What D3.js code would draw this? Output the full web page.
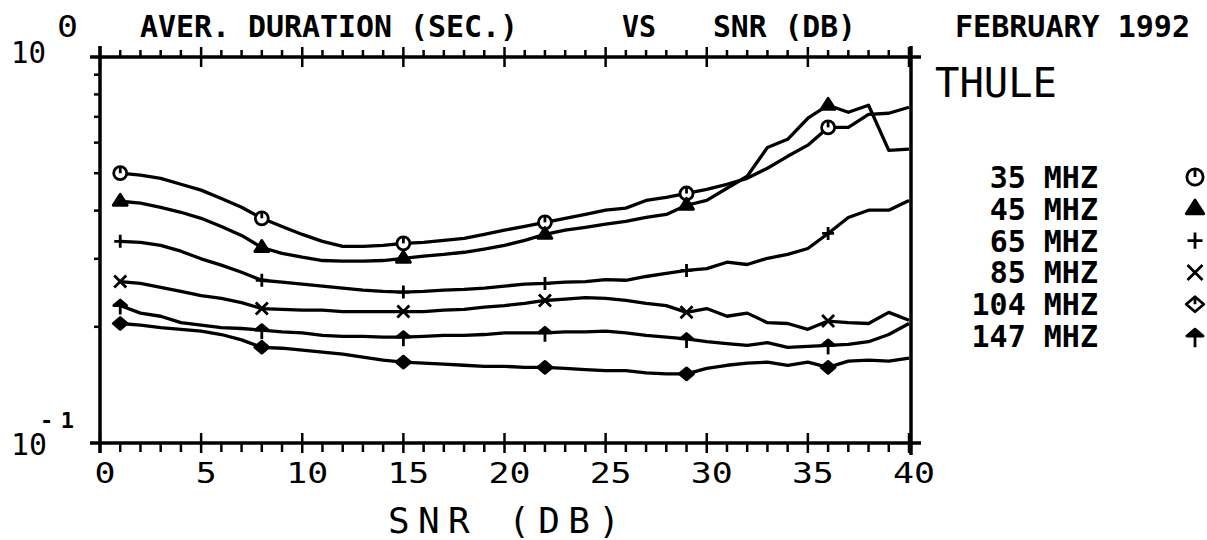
<!DOCTYPE html>
<html>
<head>
<meta charset="utf-8">
<script src="https://cdn.jsdelivr.net/npm/d3@7/dist/d3.min.js"></script>
<style>
    body { margin: 0; background: #fff; }
    svg text { font-family: "DejaVu Sans Mono", monospace; fill: #000; }
</style>
</head>
<body>
<div id="chart"></div>
<script>
// SNR (dB) at which the average durations were computed
const snr = [1, 2, 3, 4, 5, 6, 7, 8, 9, 10, 11, 12, 13, 14, 15, 16, 17, 18, 19, 20,
             21, 22, 23, 24, 25, 26, 27, 28, 29, 30, 31, 32, 33, 34, 35, 36, 37, 38, 39, 40];
// points that carry a symbol
const markerSnr = [1, 8, 15, 22, 29, 36];

const freqLabels = ["35 MHZ", "45 MHZ", "65 MHZ", "85 MHZ", "104 MHZ", "147 MHZ"];
const symbolKinds = ["circle", "triangle", "plus", "cross", "diamond", "umbrella"];

// average duration (sec.)
const dur35 = [0.500, 0.494, 0.485, 0.468, 0.452, 0.430, 0.408, 0.382, 0.364, 0.347,
               0.333, 0.323, 0.323, 0.325, 0.329, 0.331, 0.335, 0.339, 0.347, 0.356,
               0.364, 0.373, 0.382, 0.391, 0.401, 0.406, 0.425, 0.433, 0.443, 0.454,
               0.468, 0.485, 0.515, 0.553, 0.591, 0.657, 0.657, 0.710, 0.715, 0.741];
const dur45 = [0.423, 0.418, 0.408, 0.396, 0.382, 0.364, 0.345, 0.321, 0.310, 0.303,
               0.297, 0.296, 0.296, 0.297, 0.301, 0.305, 0.308, 0.312, 0.318, 0.325,
               0.335, 0.347, 0.356, 0.362, 0.369, 0.375, 0.384, 0.391, 0.413, 0.425,
               0.457, 0.491, 0.583, 0.612, 0.694, 0.750, 0.719, 0.750, 0.573, 0.577];
const dur65 = [0.333, 0.331, 0.325, 0.314, 0.300, 0.289, 0.277, 0.264, 0.261, 0.258,
               0.255, 0.252, 0.249, 0.247, 0.246, 0.247, 0.249, 0.250, 0.252, 0.255,
               0.258, 0.259, 0.261, 0.262, 0.265, 0.264, 0.270, 0.275, 0.280, 0.283,
               0.294, 0.290, 0.301, 0.308, 0.319, 0.349, 0.384, 0.401, 0.401, 0.425];
const dur85 = [0.262, 0.259, 0.253, 0.247, 0.241, 0.237, 0.231, 0.223, 0.222, 0.221,
               0.221, 0.219, 0.219, 0.219, 0.219, 0.219, 0.221, 0.222, 0.225, 0.227,
               0.230, 0.234, 0.236, 0.238, 0.237, 0.234, 0.230, 0.227, 0.218, 0.223,
               0.213, 0.217, 0.205, 0.204, 0.197, 0.207, 0.205, 0.204, 0.218, 0.208];
const dur104 = [0.204, 0.202, 0.199, 0.197, 0.195, 0.191, 0.185, 0.177, 0.176, 0.174,
                0.172, 0.170, 0.167, 0.164, 0.162, 0.161, 0.160, 0.159, 0.158, 0.158,
                0.157, 0.157, 0.156, 0.155, 0.154, 0.154, 0.152, 0.151, 0.151, 0.156,
                0.159, 0.161, 0.162, 0.159, 0.162, 0.157, 0.163, 0.164, 0.163, 0.166];
const dur147 = [0.227, 0.217, 0.213, 0.205, 0.202, 0.199, 0.198, 0.196, 0.194, 0.193,
                0.190, 0.189, 0.189, 0.188, 0.188, 0.189, 0.190, 0.190, 0.191, 0.193,
                0.193, 0.193, 0.194, 0.194, 0.195, 0.193, 0.190, 0.188, 0.186, 0.183,
                0.181, 0.179, 0.182, 0.177, 0.178, 0.179, 0.180, 0.183, 0.191, 0.204];

const series = [dur35, dur45, dur65, dur85, dur104, dur147];

const xMajorTicks = [0, 5, 10, 15, 20, 25, 30, 35, 40];
const xMinorTicks = [1, 2, 3, 4, 6, 7, 8, 9, 11, 12, 13, 14, 16, 17, 18, 19,
                     21, 22, 23, 24, 26, 27, 28, 29, 31, 32, 33, 34, 36, 37, 38, 39];
const yMinorTicks = [0.2, 0.3, 0.4, 0.5, 0.6, 0.7, 0.8, 0.9];

const renderChart = function (id) {

    var width = 1207, height = 540;
    var plotLeft = 100, plotRight = 909, plotTop = 57, plotBottom = 443;

    var svg = d3.select('#' + id)
        .append('svg')
        .attr('width', width)
        .attr('height', height);

    var x = d3.scaleLinear().domain([0, 40]).range([plotLeft, plotRight]);
    var y = d3.scaleLog().domain([0.1, 1]).range([plotBottom, plotTop]);

    // frame, corners cross like the plotter drew them
    var frame = svg.append('g')
        .attr('stroke', '#000')
        .attr('stroke-width', 3.5);
    frame.append('line').attr('x1', plotLeft - 10).attr('x2', plotRight + 12).attr('y1', plotTop).attr('y2', plotTop);
    frame.append('line').attr('x1', plotLeft - 10).attr('x2', plotRight + 12).attr('y1', plotBottom).attr('y2', plotBottom);
    frame.append('line').attr('x1', plotLeft).attr('x2', plotLeft).attr('y1', plotTop - 11).attr('y2', plotBottom + 10);
    frame.append('line').attr('x1', plotRight + 2).attr('x2', plotRight + 2).attr('y1', plotTop - 11).attr('y2', plotBottom + 12);

    // ticks
    var ticks = svg.append('g')
        .attr('stroke', '#000')
        .attr('stroke-width', 2.5);
    ticks.selectAll('.tmaj')
        .data(xMajorTicks)
        .enter()
        .append('line')
        .attr('x1', d => x(d)).attr('x2', d => x(d))
        .attr('y1', plotTop - 10).attr('y2', plotTop + 10);
    ticks.selectAll('.tmin')
        .data(xMinorTicks)
        .enter()
        .append('line')
        .attr('x1', d => x(d)).attr('x2', d => x(d))
        .attr('y1', plotTop - 7).attr('y2', plotTop);
    ticks.selectAll('.bmaj')
        .data(xMajorTicks)
        .enter()
        .append('line')
        .attr('x1', d => x(d)).attr('x2', d => x(d))
        .attr('y1', plotBottom - 10).attr('y2', plotBottom + 10);
    ticks.selectAll('.bmin')
        .data(xMinorTicks)
        .enter()
        .append('line')
        .attr('x1', d => x(d)).attr('x2', d => x(d))
        .attr('y1', plotBottom).attr('y2', plotBottom + 9);
    ticks.selectAll('.lmin')
        .data(yMinorTicks)
        .enter()
        .append('line')
        .attr('x1', plotLeft - 6).attr('x2', plotLeft)
        .attr('y1', d => y(d)).attr('y2', d => y(d));

    // x tick labels
    svg.selectAll('.xlab')
        .data(xMajorTicks)
        .enter()
        .append('text')
        .attr('x', d => x(d) + 5)
        .attr('y', 483)
        .attr('text-anchor', 'middle')
        .attr('font-size', 28)
        .attr('textLength', d => String(d).length * 21)
        .attr('lengthAdjust', 'spacingAndGlyphs')
        .text(d => d);

    // y decade labels
    svg.append('text').attr('x', 11).attr('y', 63).attr('font-size', 30)
        .attr('textLength', 35).attr('lengthAdjust', 'spacingAndGlyphs').text('10');
    svg.append('text').attr('x', 57).attr('y', 37).attr('font-size', 30)
        .attr('textLength', 21).attr('lengthAdjust', 'spacingAndGlyphs').text('0');
    svg.append('text').attr('x', 11).attr('y', 455).attr('font-size', 30)
        .attr('textLength', 36).attr('lengthAdjust', 'spacingAndGlyphs').text('10');
    svg.append('text').attr('x', 40).attr('y', 428).attr('font-size', 22)
        .attr('font-weight', 'bold')
        .attr('textLength', 34).attr('lengthAdjust', 'spacing').text('-1');

    // axis title
    svg.append('text')
        .attr('x', 388).attr('y', 533)
        .attr('font-size', 36)
        .attr('textLength', 232).attr('lengthAdjust', 'spacing')
        .text('SNR (DB)');

    // header line
    var header = [
        {t: 'AVER. DURATION (SEC.)', x0: 140, w: 378},
        {t: 'VS', x0: 622, w: 34},
        {t: 'SNR (DB)', x0: 713, w: 143},
        {t: 'FEBRUARY 1992', x0: 955, w: 235}
    ];
    svg.selectAll('.head')
        .data(header)
        .enter()
        .append('text')
        .attr('x', d => d.x0)
        .attr('y', 37)
        .attr('font-size', 31)
        .attr('font-weight', 'bold')
        .attr('textLength', d => d.w)
        .attr('lengthAdjust', 'spacingAndGlyphs')
        .text(d => d.t);

    svg.append('text')
        .attr('x', 935).attr('y', 97)
        .attr('font-size', 41)
        .attr('textLength', 122).attr('lengthAdjust', 'spacingAndGlyphs')
        .text('THULE');

    // symbols
    function drawSymbol(g, kind, s, legend) {
        g.attr('stroke', '#000').attr('stroke-width', 2.8).attr('fill', 'none');
        if (kind === 'circle') {
            g.append('circle').attr('r', 6.5 * s).attr('fill', '#fff');
            g.append('line').attr('x1', 0).attr('y1', -6.5 * s).attr('x2', 0).attr('y2', 0);
        } else if (kind === 'triangle') {
            g.append('path')
                .attr('d', 'M' + (-7 * s) + ',' + (4 * s) + 'L0,' + (-7 * s) + 'L' + (7 * s) + ',' + (4 * s) + 'Z')
                .attr('fill', '#000').attr('stroke-linejoin', 'round');
        } else if (kind === 'plus') {
            g.append('path')
                .attr('d', 'M' + (-6 * s) + ',0H' + (6 * s) + 'M0,' + (-6.5 * s) + 'V' + (6.5 * s));
        } else if (kind === 'cross') {
            g.append('path')
                .attr('d', 'M' + (-6 * s) + ',' + (-6 * s) + 'L' + (6 * s) + ',' + (6 * s) +
                           'M' + (6 * s) + ',' + (-6 * s) + 'L' + (-6 * s) + ',' + (6 * s));
        } else if (kind === 'diamond') {
            g.append('path')
                .attr('d', 'M0,' + (-6 * s) + 'L' + (7 * s) + ',0L0,' + (6 * s) + 'L' + (-7 * s) + ',0Z')
                .attr('fill', legend ? '#fff' : '#000').attr('stroke-linejoin', 'round');
            if (legend) {
                g.append('line').attr('x1', 0).attr('y1', -6 * s).attr('x2', 0).attr('y2', 0);
            }
        } else if (kind === 'umbrella') {
            g.append('path')
                .attr('d', 'M' + (-6.5 * s) + ',0L0,' + (-5.5 * s) + 'L' + (6.5 * s) + ',0Z')
                .attr('fill', '#000').attr('stroke-linejoin', 'round');
            g.append('line').attr('x1', 0).attr('y1', -5.5 * s).attr('x2', 0).attr('y2', 9 * s);
        }
    }

    // curves
    var line = d3.line()
        .x((d, i) => x(snr[i]))
        .y(d => y(d));

    svg.append('g')
        .selectAll('path')
        .data(series)
        .enter()
        .append('path')
        .attr('d', d => line(d))
        .attr('fill', 'none')
        .attr('stroke', '#000')
        .attr('stroke-width', 3.3)
        .attr('stroke-linejoin', 'round');

    series.forEach(function (vals, k) {
        markerSnr.forEach(function (m) {
            var idx = snr.indexOf(m);
            var g = svg.append('g')
                .attr('transform', 'translate(' + x(m) + ',' + y(vals[idx]) + ')');
            drawSymbol(g, symbolKinds[k], 1, false);
        });
    });

    // legend
    var legend = svg.append('g');
    freqLabels.forEach(function (lab, i) {
        var by = 188 + i * 31.8;
        legend.append('text')
            .attr('x', 1098).attr('y', by)
            .attr('text-anchor', 'end')
            .attr('font-size', 30)
            .attr('font-weight', 'bold')
            .text(lab);
        var g = legend.append('g')
            .attr('transform', 'translate(1195,' + (by - 11) + ')');
        drawSymbol(g, symbolKinds[i], 1.25, true);
    });
}

renderChart('chart');
</script>
</body>
</html>
